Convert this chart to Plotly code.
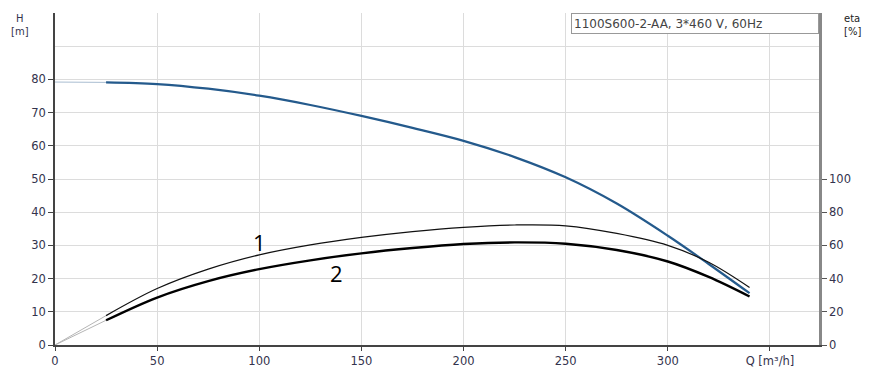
import plotly.graph_objects as go

# Pump curve data: flow Q [m³/h], head H [m], efficiencies eta [%]
q_start = [0, 25]
h_start = [79.2, 79.1]
eta_start1 = [0, 17.7]
eta_start2 = [0, 14.9]

q = [25, 50, 75, 100, 125, 150, 175, 200, 225, 250, 275, 300, 320, 340]
head = [79.1, 78.6, 77.2, 75.1, 72.3, 69.0, 65.4, 61.5, 56.6, 50.5, 42.6, 32.9, 24.4, 15.6]
eta1 = [17.7, 34.0, 45.7, 54.3, 60.3, 64.8, 68.3, 70.9, 72.3, 71.8, 67.2, 60.0, 49.8, 34.6]
eta2 = [14.9, 28.6, 38.5, 45.7, 51.0, 55.2, 58.4, 60.8, 61.8, 61.0, 57.2, 50.3, 41.0, 29.2]

x_ticks = [0, 50, 100, 150, 200, 250, 300, 350]
x_labels = ["0", "50", "100", "150", "200", "250", "300", "Q [m³/h]"]
h_ticks = [0, 10, 20, 30, 40, 50, 60, 70, 80]
eta_ticks = [0, 20, 40, 60, 80, 100]

FONT = "DejaVu Sans, Verdana, Arial"
tick_font = dict(family=FONT, size=11.5, color="#33334d")

fig = go.Figure()

# faint extrapolated sections down to Q = 0
fig.add_trace(go.Scatter(x=q_start, y=h_start, mode="lines",
                         line=dict(color="#a9bdd1", width=1), yaxis="y"))
fig.add_trace(go.Scatter(x=q_start, y=eta_start1, mode="lines",
                         line=dict(color="#b5b5b5", width=1), yaxis="y2"))
fig.add_trace(go.Scatter(x=q_start, y=eta_start2, mode="lines",
                         line=dict(color="#b5b5b5", width=1), yaxis="y2"))

# main curves
fig.add_trace(go.Scatter(x=q, y=eta1, mode="lines", line_shape="spline",
                         line=dict(color="#111111", width=1.2, smoothing=1.0), yaxis="y2"))
fig.add_trace(go.Scatter(x=q, y=eta2, mode="lines", line_shape="spline",
                         line=dict(color="#000000", width=2.4, smoothing=1.0), yaxis="y2"))
fig.add_trace(go.Scatter(x=q, y=head, mode="lines", line_shape="spline",
                         line=dict(color="#245a8c", width=2.2, smoothing=1.0), yaxis="y"))

fig.update_layout(
    width=870, height=380,
    margin=dict(l=55, r=51, t=13, b=17),
    paper_bgcolor="white", plot_bgcolor="white",
    showlegend=False,
    xaxis=dict(range=[0, 374], tickvals=x_ticks, ticktext=x_labels,
               showgrid=True, gridcolor="#dcdcdc", gridwidth=1,
               zeroline=False, showline=True, linecolor="#444444", linewidth=1.5,
               ticks="outside", ticklen=4, tickcolor="#444444",
               tickfont=tick_font),
    yaxis=dict(range=[0, 100], tickvals=h_ticks,
               showgrid=True, gridcolor="#dcdcdc", gridwidth=1,
               zeroline=False, showline=True, linecolor="#444444", linewidth=1.5,
               ticks="outside", ticklen=5, tickcolor="#444444",
               tickfont=tick_font,
               minor=dict(tickvals=[90, 100], showgrid=True,
                          gridcolor="#dcdcdc", ticks="")),
    yaxis2=dict(range=[0, 200], tickvals=eta_ticks, overlaying="y", side="right",
                showgrid=False, zeroline=False, showline=True,
                linecolor="#888888", linewidth=2.5,
                ticks="outside", ticklen=5, tickcolor="#555555",
                tickfont=tick_font),
)

fig.add_annotation(text="1100S600-2-AA, 3*460 V, 60Hz", xref="paper", yref="paper",
                   x=1, y=1, xanchor="right", yanchor="top", showarrow=False,
                   align="left", width=242, height=15,
                   font=dict(family=FONT, size=12, color="#444444"),
                   bordercolor="#999999", borderwidth=1, borderpad=2, bgcolor="white")

fig.add_annotation(text="H<br>[m]", xref="paper", yref="paper", x=-0.046, y=1.005,
                   xanchor="center", yanchor="top", showarrow=False,
                   font=dict(family=FONT, size=10, color="#33334d"))
fig.add_annotation(text="eta<br>[%]", xref="paper", yref="paper", x=1.03, y=1.005,
                   xanchor="left", yanchor="top", showarrow=False, align="left",
                   font=dict(family=FONT, size=10, color="#222222"))

# curve labels
fig.add_annotation(text="1", x=100, y=30.9, xref="x", yref="y", showarrow=False,
                   font=dict(family="Open Sans, Arial", size=22, color="black"))
fig.add_annotation(text="2", x=137.6, y=21.7, xref="x", yref="y", showarrow=False,
                   font=dict(family="Open Sans, Arial", size=22, color="black"))

fig.write_html("out.html")
